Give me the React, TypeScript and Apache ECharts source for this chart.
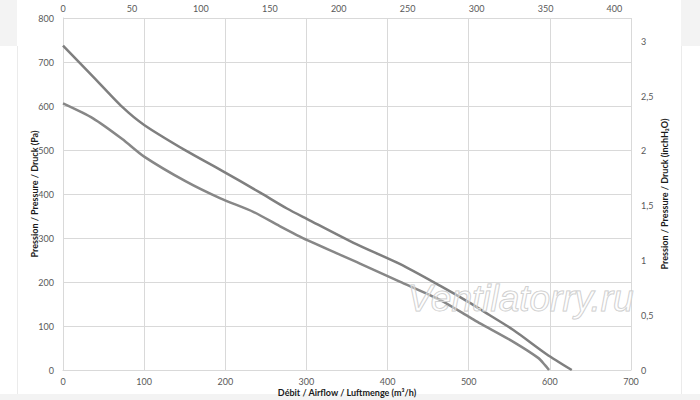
import React, { useEffect, useRef } from "react";
import * as echarts from "echarts";

// Airflow (m³/h) / pressure (Pa) points
const upperFlow = [0, 37, 73, 100, 152, 194, 243, 276, 301, 358, 415, 465, 502, 514, 555, 596, 627];
const upperPressure = [737, 667, 598, 557, 498, 455, 403, 367, 343, 289, 241, 191, 152, 138, 91, 36, 0];
const lowerFlow = [0, 37, 73, 100, 152, 194, 235, 267, 301, 366, 415, 465, 502, 514, 555, 586, 594, 599];
const lowerPressure = [606, 572, 525, 485, 428, 390, 359, 327, 295, 242, 201, 159, 119, 106, 64, 27, 11, 0];

const flowMax = 700;
const pressureMax = 800;
const cfmPerM3h = 0.58858;
const inH2OPerPa = 1 / 249.089;

const xName = "Débit / Airflow / Luftmenge (m³/h)";
const yName = "Pression / Pressure / Druck (Pa)";
const y2Name = "Pression / Pressure / Druck (inchH₂O)";
const watermark = "Ventilatorry.ru";

const FONT = "Lato, 'Liberation Sans', sans-serif";

export default function App() {
  const ref = useRef<HTMLDivElement>(null);
  useEffect(() => {
    if (!ref.current) return;
    const chart = echarts.init(ref.current, null, { renderer: "svg" });
    const label = { color: "#595959", fontSize: 9, fontFamily: FONT };
    const nameStyle = { color: "#1a1a1a", fontSize: 9, fontFamily: FONT, fontWeight: "bold" as const };
    const split = { show: true, lineStyle: { color: "#d9d9d9", width: 1 } };
    chart.setOption({
      animation: false,
      backgroundColor: "#ffffff",
      grid: { left: 63, right: 69, top: 18, bottom: 30, outerBoundsMode: "none", containLabel: false },
      graphic: [
        { type: "rect", shape: { x: 0, y: 0, width: 17, height: 46 }, style: { fill: "#f3f3f3" }, silent: true },
        { type: "rect", shape: { x: 681, y: 0, width: 19, height: 46 }, style: { fill: "#f3f3f3" }, silent: true },
        { type: "rect", shape: { x: 0, y: 394, width: 700, height: 6 }, style: { fill: "#f3f3f3" }, silent: true },
        { type: "line", shape: { x1: 17.5, y1: 46, x2: 17.5, y2: 394 }, style: { stroke: "#ebebeb", lineWidth: 1 }, silent: true },
        { type: "line", shape: { x1: 681.5, y1: 46, x2: 681.5, y2: 394 }, style: { stroke: "#ebebeb", lineWidth: 1 }, silent: true },
        {
          type: "text",
          left: 407,
          top: 279,
          z: 100,
          silent: true,
          style: {
            text: watermark,
            fontSize: 37,
            fontStyle: "italic",
            fontFamily: "'Liberation Sans', Arial, sans-serif",
            fill: "rgba(255,255,255,0.35)",
            stroke: "#c8c8c8",
            lineWidth: 1,
          },
        },
      ],
      xAxis: [
        {
          type: "value",
          position: "bottom",
          min: 0,
          max: flowMax,
          interval: 100,
          name: xName,
          nameLocation: "middle",
          nameGap: 18,
          nameMoveOverlap: false,
          nameTextStyle: nameStyle,
          axisLine: { show: true, lineStyle: { color: "#d9d9d9" } },
          axisTick: { show: false },
          axisLabel: { ...label, margin: 7 },
          splitLine: split,
        },
        {
          type: "value",
          position: "top",
          min: 0,
          max: flowMax * cfmPerM3h,
          interval: 50,
          axisLine: { show: false },
          axisTick: { show: false },
          axisLabel: {
            ...label,
            margin: 5,
            formatter: (v: number) => (Math.abs(v % 50) < 1e-6 ? String(v) : ""),
          },
          splitLine: { show: false },
        },
      ],
      yAxis: [
        {
          type: "value",
          position: "left",
          min: 0,
          max: pressureMax,
          interval: 100,
          name: yName,
          nameLocation: "middle",
          nameRotate: 90,
          nameGap: 24,
          nameMoveOverlap: false,
          nameTextStyle: nameStyle,
          axisLine: { show: true, lineStyle: { color: "#d9d9d9" } },
          axisTick: { show: false },
          axisLabel: { ...label, margin: 9 },
          splitLine: split,
        },
        {
          type: "value",
          position: "right",
          min: 0,
          max: pressureMax * inH2OPerPa,
          interval: 0.5,
          name: y2Name,
          nameLocation: "middle",
          nameRotate: 90,
          nameGap: 29,
          nameMoveOverlap: false,
          nameTextStyle: nameStyle,
          axisLine: { show: false },
          axisTick: { show: false },
          axisLabel: {
            ...label,
            margin: 10,
            formatter: (v: number) => {
              const r = Math.round(v * 2) / 2;
              if (Math.abs(r - v) > 1e-6) return "";
              return String(r).replace(".", ",");
            },
          },
          splitLine: { show: false },
        },
      ],
      series: [
        {
          type: "line",
          xAxisIndex: 0,
          yAxisIndex: 0,
          data: upperFlow.map((q, i) => [q, upperPressure[i]]),
          smooth: 0.25,
          showSymbol: false,
          lineStyle: { color: "#7f7f7f", width: 2.5 },
        },
        {
          type: "line",
          xAxisIndex: 0,
          yAxisIndex: 0,
          data: lowerFlow.map((q, i) => [q, lowerPressure[i]]),
          smooth: 0.25,
          showSymbol: false,
          lineStyle: { color: "#878787", width: 2.5 },
        },
      ],
    });
    return () => chart.dispose();
  }, []);
  return (
    <div
      ref={ref}
      style={{ position: "fixed", left: 0, top: 0, width: 700, height: 400 }}
    />
  );
}
